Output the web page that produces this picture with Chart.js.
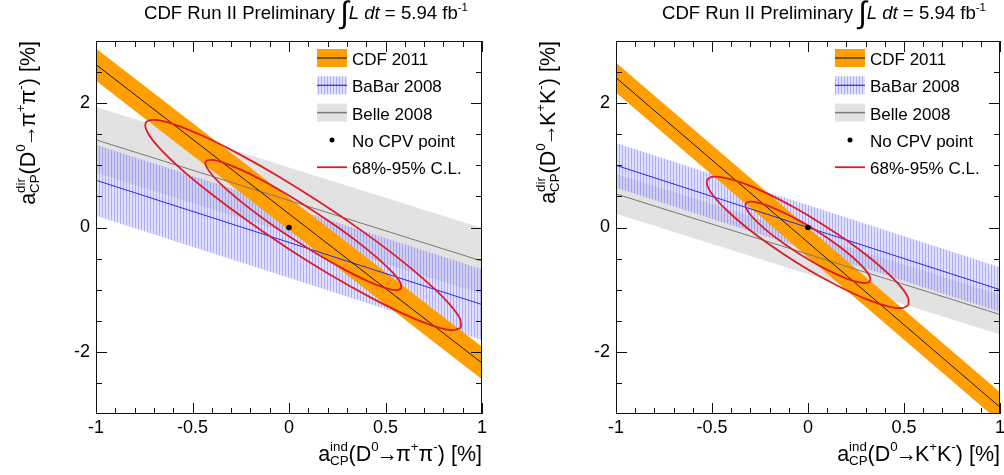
<!DOCTYPE html>
<html>
<head>
<meta charset="utf-8">
<script src="https://cdn.jsdelivr.net/npm/chart.js@4.4.0/dist/chart.umd.min.js"></script>
<style>
html, body { margin: 0; padding: 0; background: #fff; }
#wrap { position: relative; width: 1004px; height: 475px; overflow: hidden; }
canvas { position: absolute; top: 0; }
#left { left: 0; }
#right { left: 502px; }
</style>
</head>
<body>
<div id="wrap">
  <canvas id="left" width="502" height="475"></canvas>
  <canvas id="right" width="502" height="475"></canvas>
</div>
<script>
// axis ticks
const xTickLabels = [-1, -0.5, 0, 0.5, 1];
const yTickLabels = [-2, 0, 2];
const xMinorTicks = [-0.9, -0.8, -0.7, -0.6, -0.4, -0.3, -0.2, -0.1, 0.1, 0.2, 0.3, 0.4, 0.6, 0.7, 0.8, 0.9];
const yMinorTicks = [-2.5, -1.5, -1, -0.5, 0.5, 1, 1.5, 2.5];

// bands: a_dir value at a_ind = -1 and +1, and the half width of the band [%]
const bandX = [-1, 1];
const pipiCdf = [2.62, -2.18], pipiCdfHalf = 0.26;
const pipiBabar = [0.76, -1.24], pipiBabarHalf = 0.57;
const pipiBelle = [1.41, -0.54], pipiBelleHalf = 0.53;
const kkCdf = [2.41, -2.89], kkCdfHalf = 0.24;
const kkBabar = [1.00, -1.00], kkBabarHalf = 0.36;
const kkBelle = [0.54, -1.40], kkBelleHalf = 0.32;

// combined contours (68% and 95% C.L.)
const pipi68x = [0.582, 0.577, 0.539, 0.469, 0.372, 0.255, 0.125, -0.007, -0.134, -0.247, -0.338, -0.400, -0.431, -0.426, -0.388, -0.318, -0.221, -0.104, 0.026, 0.159, 0.286, 0.398, 0.489, 0.552, 0.582];
const pipi68y = [-0.984, -0.889, -0.731, -0.520, -0.271, -0.001, 0.271, 0.528, 0.752, 0.926, 1.041, 1.087, 1.061, 0.966, 0.808, 0.597, 0.348, 0.078, -0.194, -0.451, -0.674, -0.849, -0.964, -1.009, -0.984];
const pipi95x = [0.892, 0.885, 0.823, 0.710, 0.554, 0.365, 0.156, -0.058, -0.263, -0.445, -0.592, -0.692, -0.741, -0.734, -0.672, -0.559, -0.402, -0.213, -0.005, 0.209, 0.415, 0.596, 0.743, 0.844, 0.892];
const pipi95y = [-1.612, -1.458, -1.203, -0.863, -0.461, -0.026, 0.414, 0.829, 1.189, 1.471, 1.656, 1.730, 1.689, 1.536, 1.280, 0.940, 0.539, 0.103, -0.337, -0.752, -1.112, -1.394, -1.579, -1.653, -1.612];
const kk68x = [0.324, 0.323, 0.300, 0.257, 0.197, 0.122, 0.040, -0.045, -0.128, -0.201, -0.261, -0.303, -0.324, -0.323, -0.300, -0.257, -0.197, -0.122, -0.040, 0.045, 0.128, 0.201, 0.261, 0.303, 0.324];
const kk68y = [-0.866, -0.795, -0.685, -0.545, -0.385, -0.214, -0.045, 0.110, 0.242, 0.341, 0.400, 0.415, 0.386, 0.315, 0.205, 0.065, -0.095, -0.266, -0.435, -0.590, -0.722, -0.821, -0.880, -0.895, -0.866];
const kk95x = [0.523, 0.522, 0.485, 0.415, 0.317, 0.197, 0.064, -0.073, -0.206, -0.324, -0.421, -0.488, -0.523, -0.522, -0.485, -0.415, -0.317, -0.197, -0.064, 0.073, 0.206, 0.324, 0.421, 0.488, 0.523];
const kk95y = [-1.251, -1.135, -0.958, -0.733, -0.474, -0.198, 0.074, 0.325, 0.537, 0.697, 0.792, 0.818, 0.771, 0.655, 0.479, 0.253, -0.007, -0.282, -0.554, -0.805, -1.017, -1.177, -1.273, -1.298, -1.251];

const noCpvPoint = [0, 0];

const legendNames = ['CDF 2011', 'BaBar 2008', 'Belle 2008', 'No CPV point', '68%-95% C.L.'];

const FONT = '"Liberation Sans", Arial, Helvetica, sans-serif';
const colCdf = 'rgb(255,158,0)';
const colBelle = 'rgb(226,226,226)';
const colBelleLine = 'rgb(120,120,120)';
const colBabarLine = 'rgb(40,40,230)';
const colRed = 'rgb(220,28,38)';

// fine vertical hatch like the root fill style
function hatch() {
  const c = document.createElement('canvas');
  c.width = 3; c.height = 3;
  const g = c.getContext('2d');
  g.fillStyle = 'rgba(180,180,255,0.4)';
  g.fillRect(0, 0, 3, 3);
  g.fillStyle = 'rgba(110,110,240,0.45)';
  g.fillRect(0, 0, 1, 3);
  return g.createPattern(c, 'repeat');
}
const babarFill = hatch();

function pts(xs, ys) {
  return xs.map((x, i) => ({x: x, y: ys[i]}));
}

// upper edge, lower edge (filled to the upper one) and the centre line
function band(vals, half, fillColor, lineColor, ord) {
  const up = bandX.map((x, i) => ({x: x, y: vals[i] + half}));
  const lo = bandX.map((x, i) => ({x: x, y: vals[i] - half}));
  const mid = bandX.map((x, i) => ({x: x, y: vals[i]}));
  const edge = {borderColor: 'rgba(0,0,0,0)', borderWidth: 1, pointRadius: 0, showLine: true};
  return [
    Object.assign({data: up, fill: false, order: ord}, edge),
    Object.assign({data: lo, fill: '-1', backgroundColor: fillColor, order: ord}, edge),
    {data: mid, borderColor: lineColor, borderWidth: 1, pointRadius: 0, showLine: true, fill: false, order: ord - 10}
  ];
}

// text with super/subscripts, k = extra spacing on both sides in em
function runWidth(ctx, r, size) {
  if (r.stack) return Math.max.apply(null, r.stack.map(q => runWidth(ctx, q, size)));
  ctx.font = (r.it ? 'italic ' : '') + (size * (r.s || 1)) + 'px ' + FONT;
  return ctx.measureText(r.t).width + 2 * (r.k || 0) * size;
}
function drawRuns(ctx, runs, x, y, size, align) {
  const w = runs.reduce((a, r) => a + runWidth(ctx, r, size), 0);
  let cx = align == 'right' ? x - w : (align == 'center' ? x - w / 2 : x);
  ctx.textAlign = 'left';
  ctx.textBaseline = 'alphabetic';
  for (const r of runs) {
    const parts = r.stack || [r];
    const adv = runWidth(ctx, r, size);
    for (const p of parts) {
      ctx.font = (p.it ? 'italic ' : '') + (size * (p.s || 1)) + 'px ' + FONT;
      ctx.fillText(p.t, cx + (p.k || 0) * size, y + (p.dy || 0) * size);
    }
    cx += adv;
  }
}
const sup = t => ({t: t, s: 0.62, dy: -0.45});
const sub = t => ({t: t, s: 0.62, dy: 0.2});
function axisTitle(kind, decay) {
  return [{t: 'a'}, {stack: [sup(kind), sub('CP')]}, {t: '(D'}, sup('0'), {t: '\u2192', k: -0.1}, {t: decay[0]}, sup('+'), {t: decay[0]}, sup('-'), {t: ') [%]'}];
}
const titleRuns = [{t: 'CDF Run II Preliminary '}, {t: '\u222B', s: 1.65, dy: 0.2}, {t: 'L dt', it: true}, {t: ' = 5.94 fb'}, sup('-1')];

const deco = {
  id: 'deco',
  afterDraw(chart, args, o) {
    const ctx = chart.ctx, a = chart.chartArea;
    const xs = chart.scales.x, ys = chart.scales.y;
    ctx.save();
    ctx.strokeStyle = '#111';
    ctx.lineWidth = 1;
    ctx.beginPath();
    const xt = (v, len) => {
      const p = Math.round(xs.getPixelForValue(v)) + 0.5;
      ctx.moveTo(p, a.bottom); ctx.lineTo(p, a.bottom - len);
      ctx.moveTo(p, a.top); ctx.lineTo(p, a.top + len);
    };
    const yt = (v, len) => {
      const p = Math.round(ys.getPixelForValue(v)) + 0.5;
      ctx.moveTo(a.left, p); ctx.lineTo(a.left + len, p);
      ctx.moveTo(a.right, p); ctx.lineTo(a.right - len, p);
    };
    xTickLabels.forEach(v => xt(v, 11));
    xMinorTicks.forEach(v => xt(v, 6));
    yTickLabels.forEach(v => yt(v, 11));
    yMinorTicks.forEach(v => yt(v, 6));
    ctx.stroke();
    ctx.strokeRect(a.left + 0.5, a.top + 0.5, a.right - a.left - 1, a.bottom - a.top - 1);

    // legend
    const lx = a.right - 165, tx = a.right - 130;
    legendNames.forEach((name, i) => {
      const cy = a.top + 17 + i * 27.3;
      if (i == 0 || i == 1 || i == 2) {
        ctx.fillStyle = [colCdf, babarFill, colBelle][i];
        ctx.fillRect(lx, cy - 9, 30, 18);
        ctx.strokeStyle = ['#222', colBabarLine, colBelleLine][i];
        ctx.lineWidth = i == 2 ? 1.5 : 1.2;
        ctx.beginPath(); ctx.moveTo(lx, cy); ctx.lineTo(lx + 30, cy); ctx.stroke();
      } else if (i == 3) {
        ctx.fillStyle = '#000';
        ctx.beginPath(); ctx.arc(lx + 15, cy, 2.5, 0, 2 * Math.PI); ctx.fill();
      } else {
        ctx.strokeStyle = colRed; ctx.lineWidth = 1.8;
        ctx.beginPath(); ctx.moveTo(lx, cy); ctx.lineTo(lx + 30, cy); ctx.stroke();
      }
      ctx.fillStyle = '#000';
      ctx.font = '17px ' + FONT;
      ctx.textAlign = 'left';
      ctx.textBaseline = 'alphabetic';
      ctx.fillText(name, tx, cy + 7);
    });

    // titles
    ctx.fillStyle = '#000';
    drawRuns(ctx, titleRuns, a.right - 14, 19, 18.6, 'right');
    drawRuns(ctx, axisTitle('ind', o.decay), a.right, 461, 21.5, 'right');
    ctx.save();
    ctx.translate(a.left - 61, a.top);
    ctx.rotate(-Math.PI / 2);
    drawRuns(ctx, axisTitle('dir', o.decay), 0, 0, 21.5, 'right');
    ctx.restore();
    ctx.restore();
  }
};

function makePanel(id, decay, cdf, cdfHalf, babar, babarHalf, belle, belleHalf, e68x, e68y, e95x, e95y, yWidth, padRight) {
  const b1 = band(belle, belleHalf, colBelle, colBelleLine, 30);
  const b2 = band(babar, babarHalf, babarFill, colBabarLine, 29);
  const b3 = band(cdf, cdfHalf, colCdf, '#1a1a1a', 28);
  const datasets = [b1[0], b1[1], b2[0], b2[1], b3[0], b3[1], b1[2], b2[2], b3[2],
    {data: pts(e95x, e95y), borderColor: colRed, borderWidth: 1.8, pointRadius: 0, showLine: true, fill: false, tension: 0.35, order: 10},
    {data: pts(e68x, e68y), borderColor: colRed, borderWidth: 1.8, pointRadius: 0, showLine: true, fill: false, tension: 0.35, order: 9},
    {data: [{x: noCpvPoint[0], y: noCpvPoint[1]}], pointRadius: 2.8, pointBackgroundColor: '#000', pointBorderWidth: 0, showLine: false, order: 1}
  ];
  return new Chart(document.getElementById(id), {
    type: 'scatter',
    data: {datasets: datasets},
    options: {
      responsive: false,
      devicePixelRatio: 1,
      animation: false,
      events: [],
      layout: {padding: {left: 0, right: padRight, top: 41, bottom: 0}},
      plugins: {legend: {display: false}, tooltip: {enabled: false}, deco: {decay: decay}},
      scales: {
        x: {
          type: 'linear', min: -1, max: 1,
          grid: {display: false, drawTicks: false},
          border: {display: false},
          afterBuildTicks: s => { s.ticks = xTickLabels.map(v => ({value: v})); },
          afterFit: s => { s.height = 61; s.paddingLeft = 0; s.paddingRight = 0; },
          ticks: {autoSkip: false, maxRotation: 0, padding: 3, color: '#000', font: {family: FONT, size: 18}, callback: v => String(v)}
        },
        y: {
          type: 'linear', min: -3, max: 3,
          grid: {display: false, drawTicks: false},
          border: {display: false},
          afterBuildTicks: s => { s.ticks = yTickLabels.map(v => ({value: v})); },
          afterFit: s => { s.width = yWidth; s.paddingTop = 0; s.paddingBottom = 0; },
          ticks: {autoSkip: false, padding: 6, color: '#000', font: {family: FONT, size: 18}, callback: v => String(v)}
        }
      }
    },
    plugins: [deco]
  });
}

makePanel('left', ['\u03C0'], pipiCdf, pipiCdfHalf, pipiBabar, pipiBabarHalf, pipiBelle, pipiBelleHalf,
  pipi68x, pipi68y, pipi95x, pipi95y, 96, 20);
makePanel('right', ['K'], kkCdf, kkCdfHalf, kkBabar, kkBabarHalf, kkBelle, kkBelleHalf,
  kk68x, kk68y, kk95x, kk95y, 114, 2);
</script>
</body>
</html>
